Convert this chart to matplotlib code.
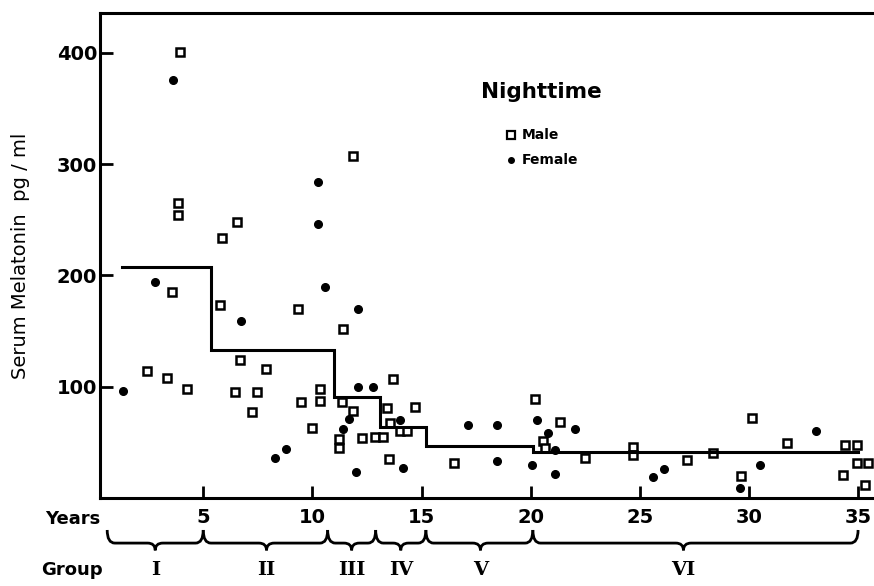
import matplotlib.pyplot as plt
import matplotlib.transforms as mtransforms
from matplotlib.path import Path
from matplotlib.patches import PathPatch

# nighttime serum melatonin by age
male_age = [3.93, 3.86, 3.86, 6.53, 5.84, 11.87, 3.55, 5.77, 9.36, 11.42,
            6.68, 7.87, 2.41, 3.32, 4.24, 6.45, 7.45, 7.22, 9.5, 10.35,
            10.35, 9.97, 11.34, 11.87, 11.22, 11.22, 12.26, 12.87, 13.25, 13.4,
            13.55, 14.01, 14.32, 13.68, 14.7, 13.5, 16.49, 20.2, 21.34, 20.58,
            20.65, 22.49, 24.7, 24.7, 27.15, 28.37, 30.12, 31.73, 29.63, 34.4,
            34.93, 34.93, 35.47, 34.32, 35.3]
male_mel = [401, 265, 254, 248, 234, 307, 185, 173, 170, 152,
            124, 116, 114, 108, 98, 95, 95, 77, 86, 98,
            87, 63, 86, 78, 53, 45, 54, 55, 55, 81,
            67, 60, 60, 107, 82, 35, 31, 89, 68, 51,
            45, 36, 46, 39, 34, 40, 72, 49, 20, 48,
            48, 31, 31, 21, 12]

female_age = [3.63, 10.27, 10.27, 2.79, 6.71, 10.58, 12.07, 1.31, 8.29, 8.79,
              11.98, 12.1, 12.8, 11.67, 11.42, 14.01, 14.14, 17.14, 18.47, 18.47,
              20.27, 22.04, 20.8, 21.1, 20.05, 21.1, 25.62, 26.1, 30.5, 33.07,
              29.59]
female_mel = [376, 284, 246, 194, 159, 190, 170, 96, 36, 44,
              23, 100, 100, 71, 62, 70, 27, 66, 66, 33,
              70, 62, 58, 43, 30, 22, 19, 26, 30, 60,
              9]

# group means (step line)
step_edges = [1.27, 5.35, 11.0, 13.1, 15.2, 20.1, 35.0]
step_levels = [208, 133, 91, 64, 47, 41]

# age groups
group_names = ['I', 'II', 'III', 'IV', 'V', 'VI']
group_edges = [0.6, 5.0, 10.7, 12.9, 15.2, 20.1, 35.0]

x_ticks = [5, 10, 15, 20, 25, 30, 35]
y_ticks = [100, 200, 300, 400]

fig = plt.figure(figsize=(8.74, 5.86), dpi=100)
ax = fig.add_axes([0.1144, 0.1502, 0.8856, 0.8276])

ax.plot(male_age, male_mel, linestyle='none', marker='s', markersize=6,
        markerfacecolor='white', markeredgecolor='black', markeredgewidth=1.8)
ax.plot(female_age, female_mel, linestyle='none', marker='o', markersize=5.5,
        color='black')

xs = []
ys = []
for i, lev in enumerate(step_levels):
    xs += [step_edges[i], step_edges[i + 1]]
    ys += [lev, lev]
ax.plot(xs, ys, color='black', lw=2.2, solid_joinstyle='miter')

ax.set_xlim(0.27, 35.73)
ax.set_ylim(0, 435.8)
ax.spines['right'].set_visible(False)
for s in ['left', 'bottom', 'top']:
    ax.spines[s].set_linewidth(2.2)
ax.set_xticks(x_ticks)
ax.set_yticks(y_ticks)
ax.set_xticklabels([str(t) for t in x_ticks])
ax.set_yticklabels([str(t) for t in y_ticks])
ax.tick_params(direction='in', length=9, width=2, labelsize=14)
for lab in ax.get_xticklabels() + ax.get_yticklabels():
    lab.set_fontweight('bold')
ax.tick_params(axis='x', pad=7)
ax.tick_params(axis='y', pad=2)

ax.set_ylabel('Serum Melatonin  pg / ml', fontsize=14)
ax.yaxis.set_label_coords(-0.09, 0.5)

ax.text(20.5, 365, 'Nighttime', fontsize=15.5, fontweight='bold', ha='center', va='center')
ax.plot([19.1], [326], marker='s', markersize=5.5, markerfacecolor='white',
        markeredgecolor='black', markeredgewidth=1.6)
ax.text(19.6, 326, 'Male', fontsize=10, fontweight='bold', va='center')
ax.plot([19.1], [304], marker='o', markersize=4, color='black')
ax.text(19.6, 304, 'Female', fontsize=10, fontweight='bold', va='center')

trans = mtransforms.blended_transform_factory(ax.transData, ax.transAxes)
ax.text(-1.0, -0.025, 'Years', transform=trans, fontsize=13, fontweight='bold',
        ha='center', va='top')
ax.text(-1.0, -0.13, 'Group', transform=trans, fontsize=13, fontweight='bold',
        ha='center', va='top')


def brace(x0, x1, xm=None, top=-0.066, mid=-0.093, tip=-0.108, r=0.35):
    if xm is None:
        xm = (x0 + x1) / 2
    verts = [(x0, top), (x0, mid), (x0 + r, mid),
             (xm - r, mid), (xm, mid), (xm, tip),
             (xm, mid), (xm + r, mid),
             (x1 - r, mid), (x1, mid), (x1, top)]
    codes = [Path.MOVETO, Path.CURVE3, Path.CURVE3,
             Path.LINETO, Path.CURVE3, Path.CURVE3,
             Path.CURVE3, Path.CURVE3,
             Path.LINETO, Path.CURVE3, Path.CURVE3]
    patch = PathPatch(Path(verts, codes), transform=trans, facecolor='none',
                      edgecolor='black', lw=2, clip_on=False)
    ax.add_patch(patch)


group_tips = [2.8, 7.9, 11.8, 14.05, 17.7, 27.0]
for i, name in enumerate(group_names):
    x0, x1 = group_edges[i], group_edges[i + 1]
    brace(x0, x1, group_tips[i])
    ax.text(group_tips[i], -0.13, name, transform=trans, fontsize=14,
            fontweight='bold', family='DejaVu Serif', ha='center', va='top')

fig.savefig('out.png', dpi=100)
